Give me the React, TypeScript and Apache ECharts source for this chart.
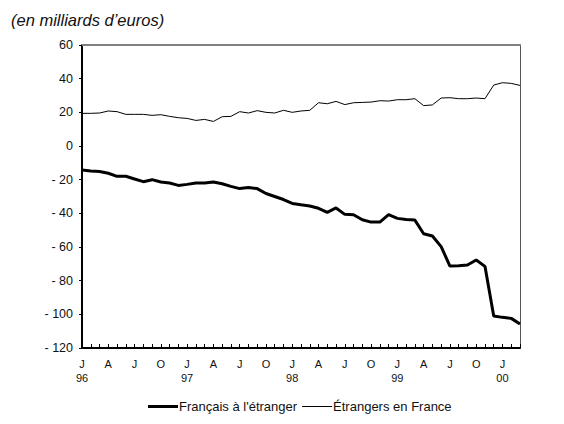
import React, { useEffect, useRef } from "react";
import * as echarts from "echarts";

const months: string[] = [];
const years = [1996, 1997, 1998, 1999, 2000];
const monthLetters = ["J", "F", "M", "A", "M", "J", "J", "A", "S", "O", "N", "D"];
for (const y of years) {
  for (let m = 0; m < 12; m++) {
    if (y === 2000 && m > 2) break;
    months.push(`${y}-${String(m + 1).padStart(2, "0")}`);
  }
}

const francaisEtranger = [
  -14.3, -14.9, -15.2, -16.2, -18.0, -18.0, -19.6, -21.2, -20.0, -21.4, -22.0, -23.4,
  -22.8, -22.0, -22.0, -21.4, -22.4, -24.0, -25.3, -24.7, -25.3, -28.2, -30.0, -31.8,
  -34.1, -34.9, -35.6, -37.0, -39.4, -36.8, -40.6, -40.8, -43.8, -45.2, -45.2, -40.8,
  -43.0, -43.6, -44.0, -52.1, -53.5, -59.8, -71.3, -71.1, -70.7, -67.7, -71.5, -101.0,
  -101.8, -102.4, -105.8,
];

const etrangersFrance = [
  19.4, 19.4, 19.6, 20.8, 20.4, 18.8, 18.8, 18.8, 18.2, 18.6, 17.6, 16.8,
  16.4, 15.2, 15.8, 14.6, 17.4, 17.6, 20.4, 19.6, 21.0, 20.0, 19.6, 21.2,
  20.0, 20.8, 21.2, 25.7, 25.1, 26.5, 24.6, 25.7, 25.9, 26.1, 26.9, 26.7,
  27.5, 27.5, 28.1, 24.0, 24.4, 28.5, 28.7, 28.1, 28.1, 28.5, 28.1, 36.2,
  37.6, 37.2, 36.0,
];

const seriesNames = ["Français à l'étranger", "Étrangers en France"];
const unitLabel = "(en milliards d\u2019euros)";

export default function App() {
  const ref = useRef<HTMLDivElement>(null);
  useEffect(() => {
    if (!ref.current) return;
    const chart = echarts.init(ref.current, undefined, { renderer: "svg" });
    const font = "'Liberation Sans', Arial, sans-serif";
    chart.setOption({
      animation: false,
      backgroundColor: "#fff",
      textStyle: { fontFamily: font },
      grid: { left: 82, right: 44, top: 45, bottom: 76, containLabel: false },
      graphic: [
        {
          type: "text",
          left: 11,
          top: 11,
          style: {
            text: unitLabel,
            fontStyle: "italic",
            fontSize: 16.5,
            fontFamily: font,
            fill: "#111",
          },
        },
      ],
      legend: {
        bottom: 6,
        left: 143,
        itemWidth: 30,
        itemHeight: 10,
        itemGap: 5,
        textStyle: { fontSize: 13, color: "#111", fontFamily: font, padding: [0, 0, 0, -4] },
        data: [
          { name: seriesNames[0], icon: "path://M0,0 L30,0 L30,3 L0,3 Z", itemStyle: { color: "#000" } },
          { name: seriesNames[1], icon: "path://M0,0 L30,0 L30,1 L0,1 Z", itemStyle: { color: "#000" } },
        ],
      },
      xAxis: [
        {
          type: "category",
          data: months,
          boundaryGap: false,
          axisLine: { onZero: false, lineStyle: { color: "#000", width: 2 } },
          axisTick: { show: true, inside: true, length: 4, interval: 0, lineStyle: { color: "#000", width: 1 } },
          axisLabel: {
            interval: 2,
            color: "#111",
            fontSize: 11,
            fontFamily: font,
            margin: 9,
            lineHeight: 14,
            formatter: (v: string) => {
              const [y, m] = v.split("-").map(Number);
              const letter = monthLetters[m - 1];
              if (m === 1) return letter + "\n" + String(y).slice(2);
              return letter;
            },
          },
          splitLine: { show: false },
        },
        {
          type: "category",
          data: months,
          boundaryGap: false,
          position: "top",
          axisLine: { onZero: false, lineStyle: { color: "#808080", width: 2 } },
          axisTick: { show: false },
          axisLabel: { show: false },
        },
      ],
      yAxis: [
        {
          type: "value",
          min: -120,
          max: 60,
          interval: 20,
          axisLine: { show: true, onZero: false, lineStyle: { color: "#000", width: 2 } },
          axisTick: { show: true, length: 3, lineStyle: { color: "#000", width: 1 } },
          splitLine: { show: false },
          axisLabel: {
            color: "#111",
            fontSize: 12.5,
            fontFamily: font,
            margin: 9,
            formatter: (v: number) => (v < 0 ? "- " + Math.abs(v) : String(v)),
          },
        },
        {
          type: "value",
          min: -120,
          max: 60,
          interval: 20,
          position: "right",
          axisLine: { show: true, onZero: false, lineStyle: { color: "#555", width: 1 } },
          axisTick: { show: false },
          axisLabel: { show: false },
          splitLine: { show: false },
        },
      ],
      series: [
        {
          name: seriesNames[0],
          type: "line",
          data: francaisEtranger,
          symbol: "none",
          lineStyle: { color: "#000", width: 3 },
          itemStyle: { color: "#000" },
        },
        {
          name: seriesNames[1],
          type: "line",
          data: etrangersFrance,
          symbol: "none",
          lineStyle: { color: "#000", width: 1 },
          itemStyle: { color: "#000" },
        },
      ],
    });
    return () => chart.dispose();
  }, []);
  return <div ref={ref} style={{ width: 564, height: 424, position: "absolute", left: 0, top: 0 }} />;
}
